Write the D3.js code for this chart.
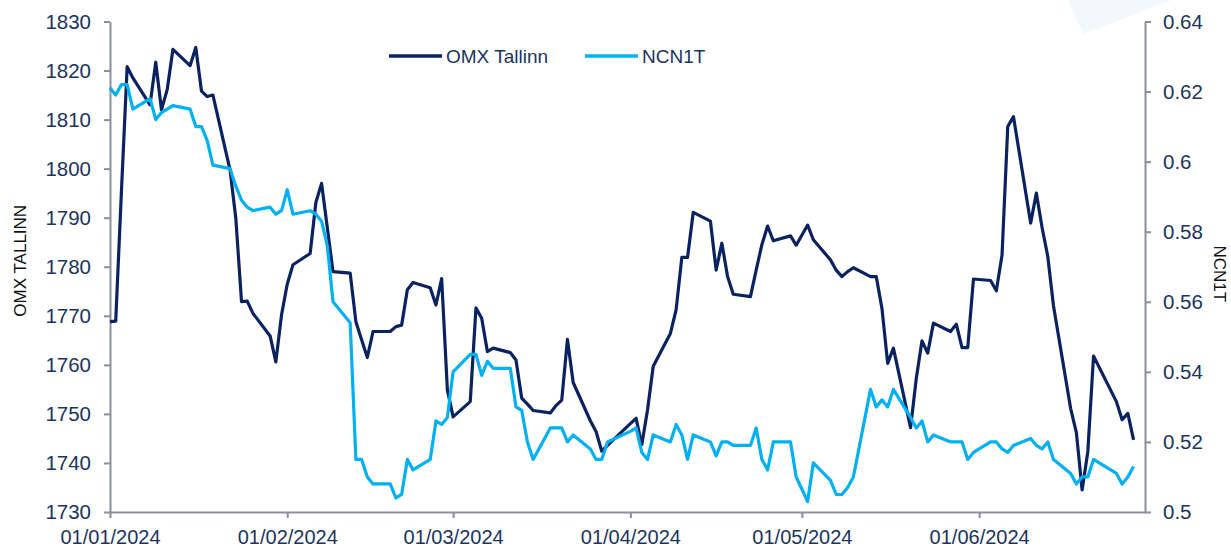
<!DOCTYPE html>
<html>
<head>
<meta charset="utf-8">
<script src="https://cdn.jsdelivr.net/npm/d3@7"></script>
<style>
  html, body { margin: 0; padding: 0; background: #ffffff; }
  svg { display: block; font-family: "Liberation Sans", Arial, sans-serif; }
</style>
</head>
<body>
<svg id="chart" width="1231" height="549"></svg>
<script>
// ---------------- DATA ----------------
const year = 2024;
const tradeDays = [
  "01-01","01-02","01-03","01-04","01-05","01-08","01-09","01-10","01-11","01-12",
  "01-15","01-16","01-17","01-18","01-19","01-22","01-23","01-24","01-25","01-26",
  "01-29","01-30","01-31",
  "02-01","02-02","02-05","02-06","02-07","02-08","02-09","02-12","02-13","02-14",
  "02-15","02-16","02-19","02-20","02-21","02-22","02-23","02-26","02-27","02-28","02-29",
  "03-01","03-04","03-05","03-06","03-07","03-08","03-11","03-12","03-13","03-14",
  "03-15","03-18","03-19","03-20","03-21","03-22","03-25","03-26","03-27","03-28",
  "04-01","04-02","04-03","04-04","04-05","04-08","04-09","04-10","04-11","04-12",
  "04-15","04-16","04-17","04-18","04-19","04-22","04-23","04-24","04-25","04-26",
  "04-29","04-30",
  "05-02","05-03","05-06","05-07","05-08","05-09","05-10","05-13","05-14","05-15",
  "05-16","05-17","05-20","05-21","05-22","05-23","05-24","05-27","05-28","05-29",
  "05-30","05-31",
  "06-03","06-04","06-05","06-06","06-07","06-10","06-11","06-12","06-13","06-14",
  "06-17","06-18","06-19","06-20","06-21","06-25","06-26","06-27","06-28"
];

const omxTallinn = [
  // Jan
  1768.8,1768.9,1795.4,1820.8,1818.5,1813.0,1821.7,1812.0,1816.1,1824.3,
  1821.0,1824.7,1815.8,1814.7,1815.0,1799.7,1789.9,1772.9,1773.0,1770.5,
  1765.9,1760.6,1770.2,
  // Feb
  1776.5,1780.4,1782.7,1793.1,1797.0,1788.0,1779.0,1778.7,1768.8,1765.1,
  1761.5,1766.8,1766.8,1767.8,1768.1,1775.3,1776.8,1775.7,1772.2,1777.6,1754.9,
  // Mar
  1749.4,1752.5,1771.6,1769.5,1762.7,1763.4,1762.5,1761.0,1753.2,1752.0,
  1750.7,1750.2,1751.7,1752.8,1765.2,1756.4,1748.6,1746.4,1742.4,1743.6,
  // Apr
  1748.0,1749.1,1743.7,1750.8,1759.7,1766.4,1771.2,1781.9,1781.9,1791.1,
  1789.3,1779.3,1784.8,1778.0,1774.4,1773.9,1779.3,1784.5,1788.3,1785.3,
  1786.3,1784.4,
  // May
  1788.5,1785.5,1781.4,1779.3,1778.0,1779.0,1779.8,1778.0,1778.0,1771.5,
  1760.3,1763.4,1747.2,1757.2,1764.9,1762.4,1768.5,1766.8,1768.3,1763.5,
  1763.5,1777.5,
  // Jun
  1777.2,1775.1,1782.4,1808.6,1810.6,1788.9,1795.0,1788.0,1782.1,1772.0,
  1751.1,1746.2,1734.5,1742.3,1761.8,1752.5,1748.8,1750.1,1744.7
];

const ncn1t = [
  // Jan
  0.621,0.619,0.622,0.622,0.615,0.618,0.612,0.614,0.615,0.616,
  0.615,0.610,0.610,0.606,0.599,0.598,0.593,0.589,0.587,0.586,
  0.587,0.585,0.586,
  // Feb
  0.592,0.585,0.586,0.585,0.583,0.576,0.560,0.554,0.515,0.515,
  0.510,0.508,0.508,0.504,0.505,0.515,0.512,0.515,0.526,0.525,0.527,
  // Mar
  0.540,0.545,0.545,0.539,0.543,0.541,0.541,0.530,0.529,0.520,
  0.515,0.524,0.524,0.524,0.520,0.522,0.518,0.515,0.515,0.520,
  // Apr
  0.523,0.524,0.517,0.515,0.522,0.520,0.525,0.522,0.515,0.522,
  0.520,0.516,0.520,0.520,0.519,0.519,0.524,0.515,0.512,0.520,
  0.520,0.510,
  // May
  0.503,0.514,0.509,0.505,0.505,0.507,0.510,0.535,0.530,0.532,
  0.530,0.535,0.527,0.524,0.526,0.520,0.522,0.520,0.520,0.520,
  0.515,0.517,
  // Jun
  0.520,0.520,0.518,0.517,0.519,0.521,0.519,0.518,0.520,0.515,
  0.511,0.508,0.510,0.510,0.515,0.511,0.508,0.510,0.513
];

const leftTicks  = [1730,1740,1750,1760,1770,1780,1790,1800,1810,1820,1830];
const rightTicks = [0.5,0.52,0.54,0.56,0.58,0.6,0.62,0.64];
const monthTicks = ["2024-01-01","2024-02-01","2024-03-01","2024-04-01","2024-05-01","2024-06-01"];
const xDomain = ["2024-01-01","2024-06-30"];
const seriesNames = ["OMX Tallinn","NCN1T"];
const leftTitle = "OMX TALLINN";
const rightTitle = "NCN1T";

// ---------------- LAYOUT ----------------
const plot = { left: 110, right: 1145, top: 21.5, bottom: 512 };
const colDark = "#0b2261";
const colLight = "#00b0f0";
const axisCol = "#8a8f99";
const tickTextCol = "#1b3461";

const parse = d3.utcParse("%Y-%m-%d");
const dates = tradeDays.map(s => parse(year + "-" + s));

const x = d3.scaleUtc().domain(xDomain.map(parse)).range([plot.left, plot.right]);
const yL = d3.scaleLinear().domain([1730, 1830]).range([plot.bottom, plot.top]);
const yR = d3.scaleLinear().domain([0.5, 0.64]).range([plot.bottom, plot.top]);

const svg = d3.select("#chart");

// faint decorative shape top right
svg.append("path")
  .attr("d", "M1068,0 L1083,34 L1172,0 Z")
  .attr("fill", "#f3f8fd");

// axes
function styleAxis(g, size) {
  g.selectAll("path.domain").attr("stroke", axisCol).attr("stroke-width", 2);
  g.selectAll(".tick line").attr("stroke", axisCol).attr("stroke-width", 2);
  g.selectAll(".tick text").attr("fill", tickTextCol).style("font-size", size)
    .style("font-family", "'Liberation Sans', Arial, sans-serif");
}

svg.append("g")
  .attr("transform", `translate(${plot.left},0)`)
  .call(d3.axisLeft(yL).tickValues(leftTicks).tickFormat(d3.format("d"))
        .tickSize(6).tickSizeOuter(0).tickPadding(13))
  .call(g => styleAxis(g, "20.5px"));

svg.append("g")
  .attr("transform", `translate(${plot.right},0)`)
  .call(d3.axisRight(yR).tickValues(rightTicks).tickFormat(d => String(+d.toFixed(2)))
        .tickSize(6).tickSizeOuter(0).tickPadding(12))
  .call(g => styleAxis(g, "20.5px"));

svg.append("g")
  .attr("transform", `translate(0,${plot.bottom})`)
  .call(d3.axisBottom(x).tickValues(monthTicks.map(parse)).tickFormat(d3.utcFormat("%d/%m/%Y"))
        .tickSize(6).tickSizeOuter(0).tickPadding(12))
  .call(g => styleAxis(g, "20px"));

// axis titles
svg.append("text")
  .attr("transform", `translate(26,${(plot.top + plot.bottom) / 2 - 6}) rotate(-90)`)
  .attr("text-anchor", "middle")
  .attr("fill", "#111")
  .style("font-size", "17px")
  .text(leftTitle);

svg.append("text")
  .attr("transform", `translate(1214,${(plot.top + plot.bottom) / 2 + 7}) rotate(90)`)
  .attr("text-anchor", "middle")
  .attr("fill", "#111")
  .style("font-size", "17px")
  .text(rightTitle);

// lines
const lineL = d3.line().x((d, i) => x(dates[i])).y(d => yL(d)).curve(d3.curveLinear);
const lineR = d3.line().x((d, i) => x(dates[i])).y(d => yR(d)).curve(d3.curveLinear);

svg.append("path")
  .datum(omxTallinn)
  .attr("d", lineL)
  .attr("fill", "none")
  .attr("stroke", colDark)
  .attr("stroke-width", 3.2)
  .attr("stroke-linejoin", "round");

svg.append("path")
  .datum(ncn1t)
  .attr("d", lineR)
  .attr("fill", "none")
  .attr("stroke", colLight)
  .attr("stroke-width", 3.2)
  .attr("stroke-linejoin", "round");

// legend
const legend = [
  { name: seriesNames[0], color: colDark, x0: 389 },
  { name: seriesNames[1], color: colLight, x0: 585 }
];
const lg = svg.append("g");
legend.forEach(l => {
  lg.append("line")
    .attr("x1", l.x0).attr("x2", l.x0 + 53)
    .attr("y1", 56).attr("y2", 56)
    .attr("stroke", l.color).attr("stroke-width", 3.5);
  lg.append("text")
    .attr("x", l.x0 + 57).attr("y", 62.5)
    .attr("fill", tickTextCol)
    .style("font-size", "19px")
    .text(l.name);
});
</script>
</body>
</html>
